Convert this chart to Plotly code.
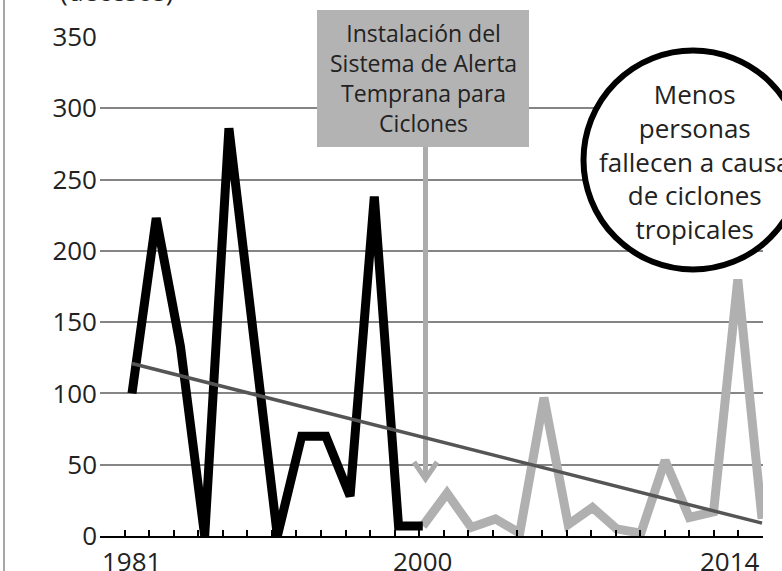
import numpy as np
import plotly.graph_objects as go

# ---------------- data ----------------
# deaths per point (black: before the warning system, gray: after)
black_idx = list(range(0, 13))
black_vals = [100, 223, 133, 0, 286, 145, 0, 70, 70, 28, 238, 7, 7]
gray_idx = list(range(12, 27))
gray_vals = [7, 30, 6, 12, 2, 97, 8, 20, 5, 2, 53, 13, 17, 180, 12]
trend_idx = [0, 26]
trend_vals = [121, 9]

x_tick_labels = ["1981", "2000", "2014"]
x_tick_label_pos = [0, 12, 24.68]
y_tick_vals = [0, 50, 100, 150, 200, 250, 300, 350]

box_text = "Instalación del<br>Sistema de Alerta<br>Temprana para<br>Ciclones"
circle_text = "Menos<br>personas<br>fallecen a causa<br>de ciclones<br>tropicales"
unit_text = "(decesos)"

# ---------------- geometry helpers ----------------
W, H = 782, 571
L, R, T, B = 100, 19, 37, 35
PW, PH = W - L - R, H - T - B
XMIN, XMAX = -1.32, 26.04
YMIN, YMAX = 0, 350


def px_x(p):
    return (p - L) / PW


def px_y(p):
    return (H - B - p) / PH


def dx(p):
    return XMIN + (p - L) / PW * (XMAX - XMIN)


def dy(p):
    return YMIN + (H - B - p) / PH * (YMAX - YMIN)


FONT = "Open Sans"
fig = go.Figure()

fig.add_trace(go.Scatter(x=gray_idx, y=gray_vals, mode="lines",
                         line=dict(color="#b0b0b0", width=9),
                         hoverinfo="skip", showlegend=False))
fig.add_trace(go.Scatter(x=black_idx, y=black_vals, mode="lines",
                         line=dict(color="#000000", width=9),
                         hoverinfo="skip", showlegend=False))
fig.add_trace(go.Scatter(x=trend_idx, y=trend_vals, mode="lines",
                         line=dict(color="#555555", width=3.5),
                         hoverinfo="skip", showlegend=False))

shapes = []
# left frame line
shapes.append(dict(type="line", xref="paper", yref="paper",
                   x0=px_x(4), x1=px_x(4), y0=px_y(571), y1=px_y(0),
                   line=dict(color="#888888", width=1.5), layer="above"))
# arrow (vertical + chevron)
ax = 425.5
shapes.append(dict(type="line", xref="x", yref="y",
                   x0=dx(ax), x1=dx(ax), y0=dy(147), y1=dy(477),
                   line=dict(color="#acacac", width=5), layer="between"))
shapes.append(dict(type="path", xref="x", yref="y",
                   path=f"M {dx(414)},{dy(462)} L {dx(ax)},{dy(479)} L {dx(437)},{dy(462)}",
                   line=dict(color="#acacac", width=5), layer="between"))
# gray annotation box
shapes.append(dict(type="rect", xref="paper", yref="paper",
                   x0=px_x(317), x1=px_x(529), y0=px_y(147), y1=px_y(10),
                   fillcolor="#b3b3b3", line=dict(width=0), layer="above"))
# circle
shapes.append(dict(type="circle", xref="paper", yref="paper",
                   x0=px_x(583.5), x1=px_x(802.5), y0=px_y(269.5), y1=px_y(50.5),
                   fillcolor="#ffffff", line=dict(color="#000000", width=6), layer="above"))

annotations = []
annotations.append(dict(xref="paper", yref="paper", x=px_x(423), y=px_y(78),
                        text=box_text, showarrow=False, xanchor="center", yanchor="middle",
                        font=dict(family=FONT, size=23, color="#222222"), align="center"))
annotations.append(dict(xref="paper", yref="paper", x=px_x(695), y=px_y(161),
                        text=circle_text, showarrow=False, xanchor="center", yanchor="middle",
                        font=dict(family=FONT, size=26, color="#222222"), align="center"))
annotations.append(dict(xref="paper", yref="paper", x=px_x(58), y=px_y(11),
                        text=unit_text, showarrow=False, xanchor="left", yanchor="bottom",
                        font=dict(family=FONT, size=26, color="#222222")))
for lab, pos in zip(x_tick_labels, x_tick_label_pos):
    annotations.append(dict(xref="x", yref="paper", x=pos, y=px_y(561),
                            text=lab, showarrow=False, xanchor="center", yanchor="middle",
                            font=dict(family=FONT, size=26, color="#222222")))

fig.update_layout(
    width=W, height=H,
    margin=dict(l=L, r=R, t=T, b=B, pad=0),
    paper_bgcolor="#ffffff", plot_bgcolor="#ffffff",
    shapes=shapes, annotations=annotations,
    showlegend=False,
    font=dict(family=FONT, size=26, color="#222222"),
    xaxis=dict(range=[XMIN, XMAX], showgrid=False, zeroline=False,
               showline=True, linecolor="#000000", linewidth=2,
               ticks="inside", ticklen=6, tickwidth=2, tickcolor="#000000",
               tickmode="array", tickvals=list(np.linspace(XMIN, XMAX, 28)),
               ticktext=[""] * 28, fixedrange=True),
    yaxis=dict(range=[YMIN, YMAX], showgrid=True, gridcolor="#858585", gridwidth=1.5,
               zeroline=False, showline=False, ticks="",
               tickmode="array", tickvals=y_tick_vals,
               ticktext=[str(v) for v in y_tick_vals],
               tickfont=dict(family=FONT, size=26, color="#222222"),
               ticklabelstandoff=2, fixedrange=True),
)

fig.write_html("out.html", config={"displayModeBar": False},
               post_script="document.body.style.margin='0';")
